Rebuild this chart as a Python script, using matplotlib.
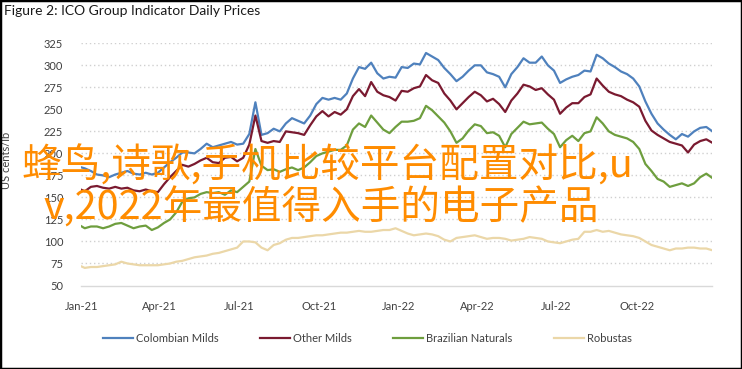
import numpy as np
import pandas as pd
import matplotlib
matplotlib.use("Agg")
import matplotlib.pyplot as plt
import matplotlib.dates as mdates
from matplotlib.patches import Rectangle

# weekly readings (US cents/lb)
dates = pd.date_range("2020-12-29", periods=105, freq="7D")

colombian = [185, 183, 180, 176, 175, 173, 176, 178, 180, 177, 176, 178, 176, 178, 184,
             190, 195, 201, 201, 200, 205, 211, 207, 209, 211, 213, 210, 211, 222, 258,
             221, 223, 228, 225, 234, 240, 237, 234, 243, 256, 263, 261, 263, 261, 268,
             285, 298, 296, 303, 291, 285, 287, 286, 298, 297, 302, 301, 314, 310, 306,
             297, 290, 282, 287, 294, 300, 300, 292, 290, 287, 275, 290, 298, 308, 303,
             303, 310, 300, 294, 280, 284, 287, 289, 294, 293, 312, 308, 302, 298, 293,
             290, 285, 276, 259, 245, 234, 227, 221, 216, 222, 219, 225, 229, 230, 225]

other_milds = [160, 157, 162, 163, 161, 160, 162, 160, 161, 158, 157, 159, 157, 156, 165,
               173, 180, 187, 185, 188, 192, 195, 190, 189, 195, 196, 191, 195, 210, 243,
               214, 212, 214, 213, 225, 224, 223, 221, 232, 242, 248, 242, 247, 244, 250,
               265, 273, 265, 281, 270, 266, 264, 260, 271, 270, 274, 276, 289, 283, 280,
               268, 260, 250, 257, 264, 270, 266, 259, 262, 256, 247, 260, 268, 278, 276,
               272, 274, 267, 261, 245, 252, 257, 257, 264, 267, 285, 277, 270, 267, 265,
               261, 258, 253, 237, 226, 221, 217, 213, 211, 209, 201, 210, 214, 216, 212]

brazilian = [119, 115, 117, 117, 115, 117, 120, 121, 118, 115, 117, 118, 113, 116, 121,
             125, 133, 145, 149, 150, 154, 156, 155, 156, 153, 158, 156, 162, 168, 205,
             186, 181, 182, 179, 182, 184, 181, 184, 190, 197, 200, 202, 204, 204, 209,
             227, 234, 230, 243, 235, 227, 223, 230, 236, 236, 237, 240, 254, 249, 242,
             235, 225, 212, 217, 226, 233, 231, 223, 224, 220, 207, 222, 229, 236, 233,
             234, 235, 228, 222, 207, 215, 220, 214, 223, 225, 241, 234, 225, 221, 219,
             217, 213, 205, 188, 180, 171, 168, 162, 164, 166, 163, 166, 173, 177, 172]

robustas = [73, 70, 71, 71, 72, 73, 74, 77, 75, 74, 73, 73, 73, 73, 74,
            75, 77, 78, 80, 82, 83, 84, 86, 87, 89, 91, 93, 100, 100, 99,
            93, 90, 96, 98, 102, 104, 104, 105, 106, 107, 107, 108, 109, 110, 110,
            111, 112, 111, 111, 112, 113, 113, 115, 112, 109, 107, 108, 109, 108, 106,
            102, 100, 104, 105, 106, 107, 105, 103, 104, 104, 103, 101, 102, 103, 105,
            104, 103, 100, 99, 98, 100, 102, 103, 111, 111, 113, 111, 112, 110, 108,
            107, 106, 104, 100, 96, 94, 92, 90, 92, 92, 93, 93, 92, 92, 90]

series_names = ["Colombian Milds", "Other Milds", "Brazilian Naturals", "Robustas"]
series_colors = ["#4F81BD", "#7A1A30", "#6E9E3E", "#EBD7A8"]
y_ticks = list(range(50, 326, 25))
x_ticks = pd.to_datetime(["2021-01-01", "2021-04-01", "2021-07-01", "2021-10-01",
                          "2022-01-01", "2022-04-01", "2022-07-01", "2022-10-01"])

title = "Figure 2: ICO Group Indicator Daily Prices"
overlay_1 = "蜂鸟,诗歌,手机比较平台配置对比,u"
overlay_2 = "v,2022年最值得入手的电子产品"

plt.rcParams["font.family"] = ["Lato", "DejaVu Sans"]

fig = plt.figure(figsize=(7.42, 3.69), dpi=100)
ax = fig.add_axes([81.3 / 742, 1 - 285.5 / 369, (712.4 - 81.3) / 742, (285.5 - 43.3) / 369])

for vals, name, col in zip([colombian, other_milds, brazilian, robustas], series_names, series_colors):
    ax.plot(dates, vals, color=col, lw=1.6, label=name, solid_joinstyle="round")

ax.set_ylim(50, 325)
ax.set_xlim(pd.Timestamp("2021-01-01"), pd.Timestamp("2022-12-27"))
ax.set_yticks(y_ticks)
ax.set_xticks(x_ticks)
ax.xaxis.set_major_formatter(mdates.DateFormatter("%b-%y"))
ax.tick_params(axis="both", length=0, labelsize=8, colors="#404040")
ax.tick_params(axis="y", pad=13)
ax.tick_params(axis="x", pad=11)
for y in y_ticks[1:]:
    ax.axhline(y, color="#D0D0D0", lw=1, ls=(0, (1, 2)), zorder=0)
for s in ["top", "right", "left"]:
    ax.spines[s].set_visible(False)
ax.spines["bottom"].set_color("#D9D9D9")
ax.spines["bottom"].set_linewidth(1)
ax.set_ylabel("US cents/lb", fontsize=8, color="#404040")
ax.yaxis.set_label_coords(-69 / 631, (285.5 - 160) / 242.2)

fig.text(4 / 742, 1 - 11 / 369, title, fontsize=10, color="#1a1a1a", va="center", ha="left")

fig.legend(loc="center", bbox_to_anchor=(0.495, 0.084), ncol=4, frameon=False,
           fontsize=8, handlelength=2.7, handletextpad=0.3, columnspacing=3.7,
           labelcolor="#404040")

cjk = ["Noto Sans CJK SC", "DejaVu Sans"]
fig.text(21.7 / 742, 1 - 166 / 369, overlay_1, family=cjk, fontsize=28.5,
         color="#FF8C00", va="center", ha="left", zorder=10)
fig.text(43 / 742, 1 - 208 / 369, overlay_2, family=cjk, fontsize=28.5,
         color="#FF8C00", va="center", ha="left", zorder=10)

fig.patches.append(Rectangle((0, 0), 1, 1, transform=fig.transFigure, fill=False,
                             edgecolor="black", lw=2.5))

fig.savefig("out.png", dpi=100)
